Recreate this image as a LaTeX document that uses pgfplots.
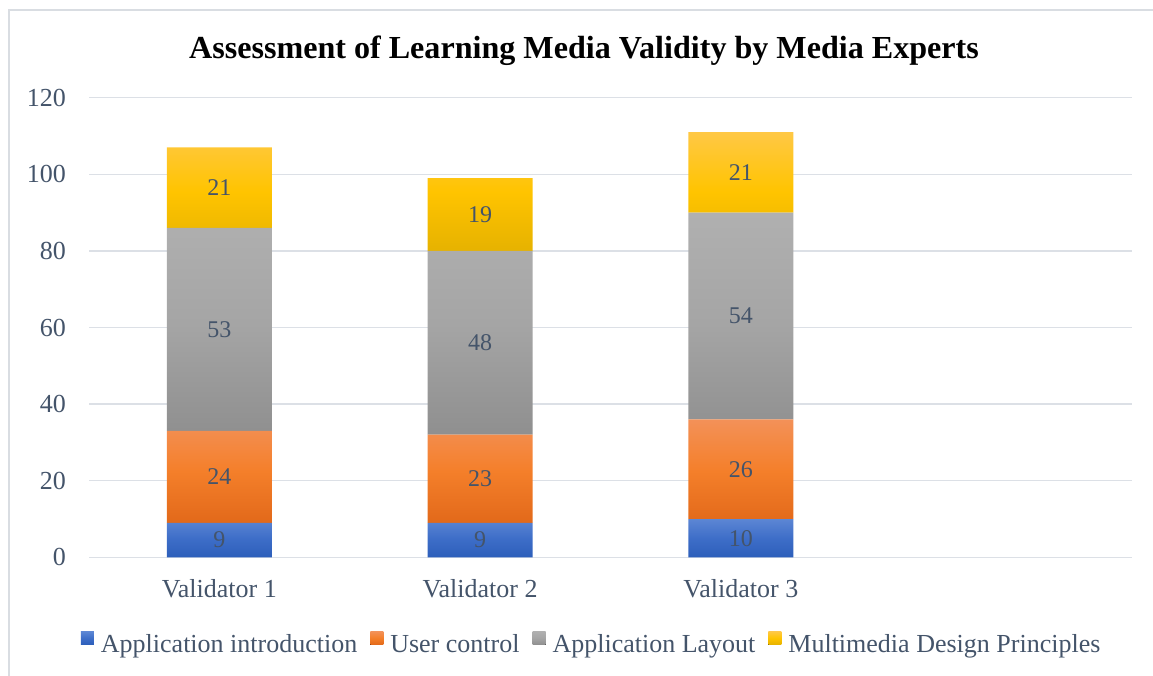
\documentclass[border=0pt]{standalone}
\usepackage{fontspec}
\setmainfont{Liberation Serif}
\usepackage{pgfplots}
\usepackage{pgfplotstable}
\pgfplotsset{compat=1.18}

\definecolor{txt}{HTML}{44546A}
\definecolor{gridc}{HTML}{DCE0E6}
\definecolor{frame}{HTML}{D9DDE2}

% Scores per validator: introduction, user control, layout, design principles
\pgfplotstableread{
x  a   b   c   d
0  9   24  53  21
1  9   23  48  19
2  10  26  54  21
}\scores

\pgfplotsset{
  chart frame/.style={
    at={(89pt,117.7pt)}, anchor=south west,
    scale only axis, width=1043pt, height=459.6pt,
    xmin=-0.5, xmax=3.5, ymin=0, ymax=120,
    enlargelimits=false,
  },
}

\begin{document}
\begin{tikzpicture}[x=1pt,y=1pt]
\useasboundingbox (0,0) rectangle (1153,675);
\draw[frame, line width=1.5pt] (9,665) rectangle (1200,-30);
\node[anchor=base, font=\fontsize{32.1}{36}\selectfont\bfseries]
  at (584,616) {Assessment of Learning Media Validity by Media Experts};
\begin{axis}[
  chart frame,
  ybar stacked, bar width=105pt,
  xtick={0,1,2}, xticklabels={Validator 1,Validator 2,Validator 3},
  ytick={0,20,...,120},
  major tick length=0pt,
  axis line style={draw=none},
  ymajorgrids, grid style={gridc, line width=1.5pt},
  /pgf/number format/assume math mode=true,
  ticklabel style={font=\fontsize{26}{30}\selectfont, text=txt},
  yticklabel style={anchor=east, inner sep=0pt, xshift=-23pt},
  xticklabel style={anchor=base, inner sep=0pt, yshift=-40pt},
  legend columns=4,
  legend style={at={(0.481,-0.1865)}, anchor=center, draw=none, fill=none,
    font=\fontsize{26}{30}\selectfont, text=txt,
    nodes={inner sep=0pt},
    /tikz/every odd column/.append style={column sep=7pt},
    /tikz/every even column/.append style={column sep=13pt}},
  legend image code/.code={\fill[#1] (0pt,0pt) rectangle (13pt,13pt);},
]
\addplot[draw=none, top color={rgb,255:red,92;green,134;blue,212}, bottom color={rgb,255:red,44;green,94;blue,186}, middle color={rgb,255:red,62;green,110;blue,200}]
  table[x=x, y=a] {\scores};
\addplot[draw=none, top color={rgb,255:red,243;green,145;blue,88}, bottom color={rgb,255:red,226;green,105;blue,26}, middle color={rgb,255:red,244;green,127;blue,42}]
  table[x=x, y=b] {\scores};
\addplot[draw=none, top color={rgb,255:red,176;green,176;blue,176}, bottom color={rgb,255:red,143;green,143;blue,143}, middle color={rgb,255:red,165;green,165;blue,165}]
  table[x=x, y=c] {\scores};
\addplot[draw=none, top color={rgb,255:red,255;green,200;blue,69}, bottom color={rgb,255:red,230;green,178;blue,0}, middle color={rgb,255:red,255;green,196;blue,0}]
  table[x=x, y=d] {\scores};
\legend{Application introduction, User control, Application Layout, Multimedia Design Principles}
\end{axis}
% value labels, centred in each stacked segment
\begin{axis}[
  chart frame, hide axis,
  /pgf/number format/assume math mode=true,
  nodes near coords, nodes near coords align=center, point meta=explicit,
  every node near coord/.append style={font=\fontsize{24}{28}\selectfont, text=txt},
]
\addplot[draw=none, mark=none] table[x=x, y expr=\thisrow{a}/2, meta=a] {\scores};
\addplot[draw=none, mark=none] table[x=x, y expr=\thisrow{a}+\thisrow{b}/2, meta=b] {\scores};
\addplot[draw=none, mark=none] table[x=x, y expr=\thisrow{a}+\thisrow{b}+\thisrow{c}/2, meta=c] {\scores};
\addplot[draw=none, mark=none] table[x=x, y expr=\thisrow{a}+\thisrow{b}+\thisrow{c}+\thisrow{d}/2, meta=d] {\scores};
\end{axis}
\end{tikzpicture}
\end{document}
